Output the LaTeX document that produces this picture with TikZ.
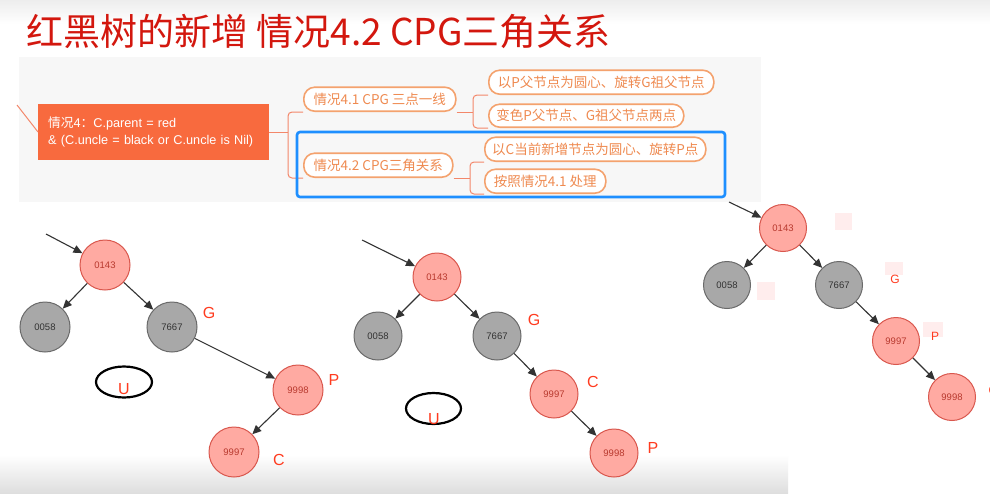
\documentclass[tikz,border=0pt]{standalone}
\usepackage{fontspec}
\setmainfont{Liberation Sans}
\newfontfamily\cjk{Noto Sans CJK SC}
\usetikzlibrary{arrows.meta,shapes.geometric}
\definecolor{titc}{HTML}{D3170E}
\definecolor{panelc}{HTML}{F7F7F7}
\definecolor{rootc}{HTML}{F86A3E}
\definecolor{mmor}{HTML}{F4A26E}
\definecolor{mmtx}{HTML}{EF8A50}
\definecolor{lnor}{HTML}{F3876A}
\definecolor{bluec}{HTML}{1E8FFF}
\definecolor{rfill}{HTML}{FFAAA2}
\definecolor{rbd}{HTML}{D9574D}
\definecolor{rtx}{HTML}{B8392E}
\definecolor{gfill}{HTML}{A8A8A8}
\definecolor{gbd}{HTML}{6A6A6A}
\definecolor{gtx}{HTML}{333333}
\definecolor{arrc}{HTML}{333333}
\definecolor{labc}{HTML}{FF3B1F}
\definecolor{blobc}{HTML}{FFEDED}
\tikzset{
  mm/.style={draw=mmor, line width=1.6pt, fill=white, rounded corners=11pt,
    minimum height=24pt, inner xsep=6pt, inner ysep=0pt, text=mmtx,
    font=\cjk\fontsize{13.5}{14}\selectfont, anchor=south west},
  conn/.style={draw=lnor, line width=1pt, rounded corners=4pt},
  rnode/.style={circle, draw=rbd, fill=rfill, line width=1pt, text=rtx,
    font=\fontsize{9.5}{9.5}\selectfont, inner sep=0pt},
  gnode/.style={circle, draw=gbd, fill=gfill, line width=1pt, text=gtx,
    font=\fontsize{9.5}{9.5}\selectfont, inner sep=0pt},
  tarr/.style={-{Triangle[length=9pt,width=8pt]}, draw=arrc, line width=1.1pt},
  lab/.style={text=labc, font=\fontsize{16}{16}\selectfont, inner sep=0pt},
  slab/.style={text=labc, font=\fontsize{12}{12}\selectfont, inner sep=0pt},
  uell/.style={ellipse, draw=black, line width=2.2pt, minimum width=56pt, minimum height=31pt, inner sep=0pt}
}
\begin{document}
\begin{tikzpicture}[x=1pt,y=-1pt]
\useasboundingbox (0,0) rectangle (990,493);
\fill[white] (0,0) rectangle (990,493);
\shade[top color=black!7, bottom color=white] (0,0) rectangle (990,24);
\shade[top color=white, bottom color=black!13] (0,455) rectangle (788,493);
% title
\node[anchor=west, inner sep=0pt, text=titc, font=\cjk\fontsize{37}{37}\selectfont] (title) at (26,32) {红黑树的新增 情况4.2 CPG三角关系};
% panel
\fill[panelc] (19,57) rectangle (761,202);
% root box
\coordinate (rin) at (17,105);
\node[anchor=west, fill=rootc, minimum width=231pt, minimum height=56pt, text width=211pt, inner xsep=10pt, align=left, text=white, font=\fontsize{12.7}{17}\selectfont] (root) at (38,132)
  {{\cjk 情况}4{\cjk ：}C.parent = red\\\& (C.uncle = black or C.uncle is Nil)};
\draw[lnor, line width=1pt] (rin) -- (root.west);
% level 1
\node[mm, minimum width=152pt] (n41) at (303,112) {情况4.1 CPG 三点一线};
\node[mm, minimum width=149pt] (n42) at (303,178) {情况4.2 CPG三角关系};
% level 2
\node[mm, minimum width=225pt] (c1) at (488,95) {以P父节点为圆心、旋转G祖父节点};
\node[mm, minimum width=195pt, minimum height=23pt] (c2) at (488,128) {变色P父节点、G祖父节点两点};
\node[mm, minimum width=221pt] (c3) at (484,162) {以C当前新增节点为圆心、旋转P点};
\node[mm, minimum width=121pt] (c4) at (484,194) {按照情况4.1 处理};
% connectors
\coordinate (b0) at (288,132);
\coordinate (b41) at (473,112);
\coordinate (b42) at (470,178);
\draw[conn] (root.east) -- (b0);
\draw[conn] (n41.south west) -| (b0) |- (n42.south west);
\draw[conn] (n41.south east) -- (b41);
\draw[conn] (c1.south west) -| (b41) |- (c2.south west);
\draw[conn] (n42.south east) -- (b42);
\draw[conn] (c3.south west) -| (b42) |- (c4.south west);
% blue highlight
\draw[bluec, line width=2.6pt, rounded corners=3pt] (297,132) rectangle (725,197);

% ---------- tree 1 ----------
\node[rnode, minimum size=50pt] (a1) at (105,265) {0143};
\node[gnode, minimum size=50pt] (a2) at (45,327) {0058};
\node[gnode, minimum size=50pt] (a3) at (172,327) {7667};
\node[rnode, minimum size=50pt] (a4) at (298,390) {9998};
\node[rnode, minimum size=50pt] (a5) at (234,452) {9997};
\coordinate (ain) at (46,234);
\draw[tarr] (ain) -- (a1);
\draw[tarr] (a1) -- (a2);
\draw[tarr] (a1) -- (a3);
\draw[tarr] (a3) -- (a4);
\draw[tarr] (a4) -- (a5);
\node[lab] (ag) at (209,313) {G};
\node[lab] (ap) at (334,380) {P};
\node[lab] (ac) at (279,460) {C};
\node[uell] (au) at (124,382) {};
\node[lab] (aut) at (124,389) {U};

% ---------- tree 2 ----------
\node[rnode, minimum size=48pt] (b1) at (437,277) {0143};
\node[gnode, minimum size=48pt] (b2) at (378,336) {0058};
\node[gnode, minimum size=48pt] (b3) at (497,336) {7667};
\node[rnode, minimum size=48pt] (b4) at (554,394) {9997};
\node[rnode, minimum size=48pt] (b5) at (614,453) {9998};
\coordinate (bin) at (362,240);
\draw[tarr] (bin) -- (b1);
\draw[tarr] (b1) -- (b2);
\draw[tarr] (b1) -- (b3);
\draw[tarr] (b3) -- (b4);
\draw[tarr] (b4) -- (b5);
\node[lab] (bg) at (534,320) {G};
\node[lab] (bc) at (593,382) {C};
\node[lab] (bp) at (653,448) {P};
\node[uell, minimum width=55pt] (bu) at (433.5,408.5) {};
\node[lab] (but) at (434,419) {U};

% ---------- tree 3 ----------
\fill[blobc] (835,213) rectangle (852,230);
\fill[blobc] (757,282) rectangle (775,300);
\fill[blobc] (885,262) rectangle (903,275);
\fill[blobc] (923,322) rectangle (943,337);
\node[rnode, minimum size=47pt] (d1) at (783,228) {0143};
\node[gnode, minimum size=47pt] (d2) at (727,285) {0058};
\node[gnode, minimum size=47pt] (d3) at (839,285) {7667};
\node[rnode, minimum size=47pt] (d4) at (896,341) {9997};
\node[rnode, minimum size=47pt] (d5) at (952,397) {9998};
\coordinate (din) at (729,202);
\draw[tarr] (din) -- (d1);
\draw[tarr] (d1) -- (d2);
\draw[tarr] (d1) -- (d3);
\draw[tarr] (d3) -- (d4);
\draw[tarr] (d4) -- (d5);
\node[slab] (dg) at (895,279) {G};
\node[slab] (dp) at (935,336) {P};
\node[slab] (dc) at (993,390) {C};
\end{tikzpicture}
\end{document}
